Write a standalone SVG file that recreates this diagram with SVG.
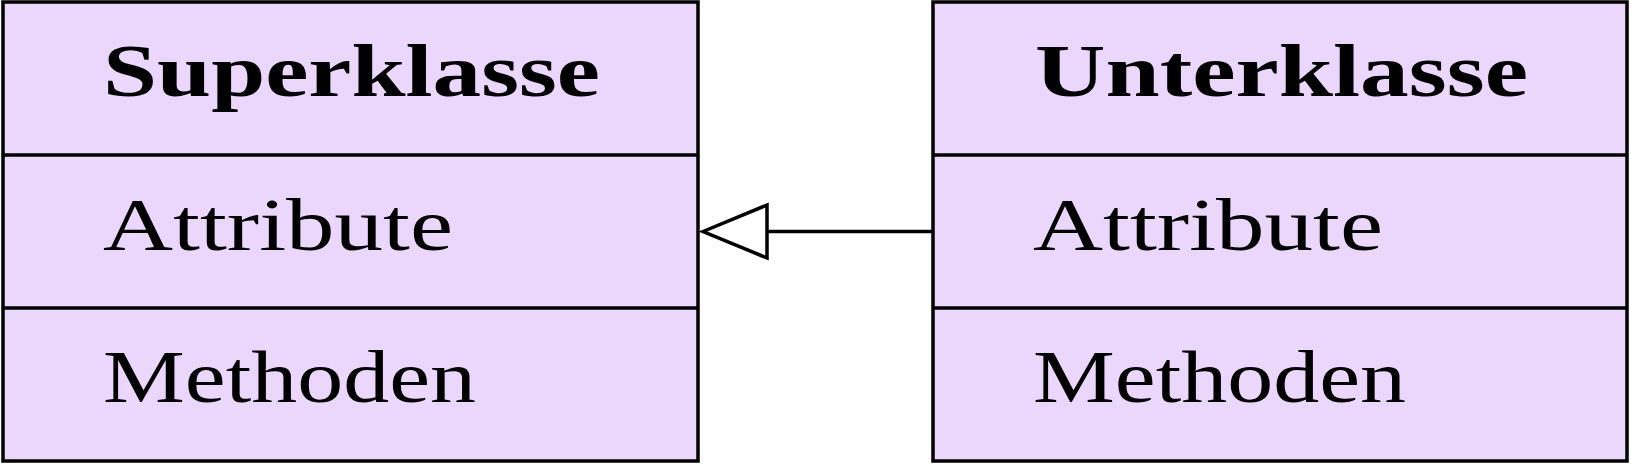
<svg xmlns="http://www.w3.org/2000/svg" width="1631" height="464" viewBox="0 0 1631 464">
<style>
.box{fill:#ebd6fc;stroke:#000;stroke-width:3.5}
.div{stroke:#000;stroke-width:3.5}
.t{font-family:"Liberation Serif","DejaVu Serif",serif;font-size:74px;fill:#000}
.b{font-weight:bold}
.conn{stroke:#000;stroke-width:3.5;fill:none}
.head{fill:#fff;stroke:#000;stroke-width:3.5;stroke-linejoin:miter}
</style>
<rect width="1631" height="464" fill="#fff"/>
<g id="superklasse">
<rect class="box" x="3" y="2" width="695" height="459"/>
<line class="div" x1="3" y1="155" x2="698" y2="155"/>
<line class="div" x1="3" y1="308" x2="698" y2="308"/>
<text class="t b" x="103" y="96" textLength="497" lengthAdjust="spacingAndGlyphs">Superklasse</text>
<text class="t" x="103" y="250" textLength="350" lengthAdjust="spacingAndGlyphs">Attribute</text>
<text class="t" x="103" y="402" textLength="373" lengthAdjust="spacingAndGlyphs">Methoden</text>
</g>
<g id="unterklasse">
<rect class="box" x="933" y="2" width="694" height="459"/>
<line class="div" x1="933" y1="155" x2="1627" y2="155"/>
<line class="div" x1="933" y1="308" x2="1627" y2="308"/>
<text class="t b" x="1035" y="96" textLength="493" lengthAdjust="spacingAndGlyphs">Unterklasse</text>
<text class="t" x="1033" y="250" textLength="350" lengthAdjust="spacingAndGlyphs">Attribute</text>
<text class="t" x="1033" y="402" textLength="373" lengthAdjust="spacingAndGlyphs">Methoden</text>
</g>
<g id="connectors">
<line class="conn" x1="767" y1="231.5" x2="933" y2="231.5"/>
<polygon class="head" points="703,231.5 767,205 767,258"/>
</g>
</svg>
